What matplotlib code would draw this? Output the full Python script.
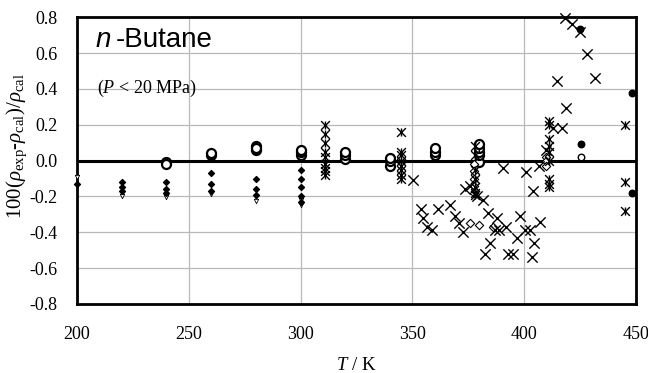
import matplotlib
matplotlib.use("Agg")
import matplotlib.pyplot as plt
import numpy as np

plt.rcParams["mathtext.fontset"] = "custom"
plt.rcParams["mathtext.rm"] = "Liberation Serif"
plt.rcParams["mathtext.it"] = "Liberation Serif:italic"
plt.rcParams["mathtext.default"] = "it"

# Series: small filled dots
dot_T = [200, 220, 220, 220, 240, 240, 240, 260, 260, 260, 280, 280, 280,
         300, 300, 300, 300, 300]
dot_v = [-0.13, -0.12, -0.145, -0.17, -0.12, -0.16, -0.18, -0.07, -0.13, -0.17,
         -0.10, -0.16, -0.19, -0.05, -0.10, -0.15, -0.20, -0.23]
# small open chevrons
chev_T = [200, 220, 220, 240, 240, 260, 280, 280, 300, 300]
chev_v = [-0.09, -0.18, -0.195, -0.19, -0.205, -0.185, -0.205, -0.225, -0.22, -0.25]
# open circles
circ_T = [240, 240, 260, 260, 280, 280, 280, 300, 300, 300, 320, 320, 320,
          340, 340, 340, 360, 360, 360, 380, 380, 380, 380, 380]
circ_v = [-0.01, -0.02, 0.03, 0.04, 0.06, 0.08, 0.07, 0.03, 0.05, 0.06, 0.01, 0.03, 0.05,
          -0.03, 0.0, 0.015, 0.03, 0.05, 0.07, -0.01, 0.03, 0.05, 0.07, 0.09]
# asterisks
ast_T = [311]*9 + [345]*8 + [378]*7 + [411]*9 + [445]*3
ast_v = [0.20, 0.15, 0.10, 0.05, 0.02, -0.02, -0.04, -0.06, -0.08,
         0.16, 0.05, 0.03, 0.0, -0.03, -0.05, -0.08, -0.10,
         0.08, 0.03, -0.05, -0.10, -0.15, -0.18, -0.19,
         0.22, 0.20, 0.12, 0.08, 0.05, 0.0, -0.10, -0.13, -0.15,
         0.20, -0.12, -0.28]
# crosses
x_T = [418.3, 421.4, 425.0, 428.0, 431.7, 414.7, 419.0, 413.0, 417.0, 410.0,
       406.6, 390.5, 401.0, 404.0, 350.3, 354.0, 355.0, 356.5, 359.0, 361.5,
       367.0, 369.0, 371.0, 372.6, 373.5, 381.6, 383.8, 387.8, 387.0, 389.0,
       392.0, 384.7, 382.5, 392.8, 395.0, 398.0, 397.0, 400.4, 402.6, 404.4,
       403.5, 407.0, 376.0, 379.0]
x_v = [0.797, 0.764, 0.715, 0.596, 0.46, 0.446, 0.295, 0.18, 0.18, 0.06,
       -0.03, -0.04, -0.065, -0.17, -0.11, -0.27, -0.32, -0.37, -0.39, -0.27,
       -0.25, -0.31, -0.35, -0.40, -0.16, -0.22, -0.29, -0.32, -0.39, -0.39,
       -0.37, -0.46, -0.52, -0.52, -0.52, -0.31, -0.43, -0.39, -0.39, -0.46,
       -0.54, -0.34, -0.14, -0.20]
# open diamonds
dia_T = [377.5, 377.5, 377.5, 377.5, 377.5, 410, 410, 410, 375.8, 380, 386]
dia_v = [-0.02, -0.06, -0.10, -0.14, -0.18, 0.02, 0.0, -0.03, -0.35, -0.36, -0.37]
# filled circles
fc_T = [425.0, 425.4, 448.3, 448.3]
fc_v = [0.735, 0.095, 0.375, -0.18]
oc2_T = [425.4]
oc2_v = [0.02]

xticks = [200, 250, 300, 350, 400, 450]
yticks = [-0.8, -0.6, -0.4, -0.2, 0.0, 0.2, 0.4, 0.6, 0.8]

fig = plt.figure(figsize=(6.48, 3.73), dpi=100)
ax = fig.add_axes([0.119, 0.185, 0.862, 0.769])
ax.set_xlim(200, 450)
ax.set_ylim(-0.8, 0.8)
ax.set_xticks(xticks)
ax.set_yticks(yticks)
ax.set_yticklabels([f"{v:.1f}" for v in yticks])
ax.grid(True, color="#b8b8b8", lw=0.9)
ax.set_axisbelow(True)
ax.tick_params(axis="x", length=0, pad=16, labelsize=13)
ax.tick_params(axis="y", length=0, pad=14, labelsize=13)
for lab in ax.get_xticklabels() + ax.get_yticklabels():
    lab.set_fontfamily("Liberation Serif")
for s in ax.spines.values():
    s.set_linewidth(2.0)
ax.axhline(0, color="black", lw=2.2, zorder=2)

kw = dict(clip_on=False, zorder=3)
ax.scatter(chev_T, chev_v, marker="v", s=10, facecolors="white", edgecolors="black", linewidths=0.6, **kw)
ax.scatter(dot_T, dot_v, marker="D", s=9, c="black", **kw)
ax.scatter(circ_T, circ_v, marker="o", s=42, facecolors="white", edgecolors="black", linewidths=1.6, **kw)
ax.scatter(dia_T, dia_v, marker="D", s=18, facecolors="white", edgecolors="black", linewidths=0.8, **kw)
ax.scatter(x_T, x_v, marker="x", s=55, c="black", linewidths=1.0, **kw)
ax.scatter(ast_T, ast_v, marker="x", s=40, c="black", linewidths=1.0, **kw)
ax.scatter(ast_T, ast_v, marker="|", s=40, c="black", linewidths=1.0, **kw)
ax.scatter(fc_T, fc_v, marker="o", s=22, c="black", **kw)
ax.scatter(oc2_T, oc2_v, marker="o", s=22, facecolors="white", edgecolors="black", linewidths=1.0, **kw)

ax.text(0.033, 0.965, "n", transform=ax.transAxes, style="italic",
        fontsize=20, va="top", ha="left", family="Liberation Sans")
ax.text(0.07, 0.965, "-Butane", transform=ax.transAxes,
        fontsize=20, va="top", ha="left", family="Liberation Sans")
ax.text(0.035, 0.79, r"($P$ < 20 MPa)", transform=ax.transAxes,
        fontsize=13, va="top", ha="left", family="Liberation Serif")

ax.set_ylabel(r"$\mathrm{100(}\rho_{\mathrm{exp}}\mathrm{\text{-}}\rho_{\mathrm{cal}}\mathrm{)/}\rho_{\mathrm{cal}}$",
              fontsize=15, va="center")
ax.yaxis.set_label_coords(-0.108, 0.55)
ax.set_xlabel(r"$T$ / K", fontsize=13.5, family="Liberation Serif", va="center")
ax.xaxis.set_label_coords(0.5, -0.213)

fig.savefig("out.png", dpi=100)
